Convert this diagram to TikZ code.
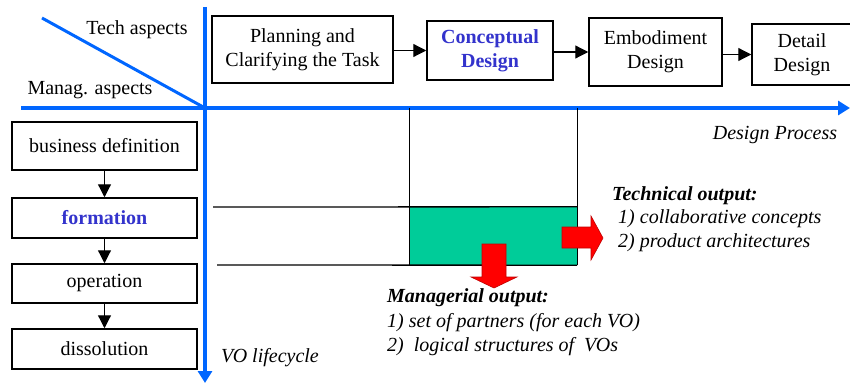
\documentclass[tikz,border=0pt]{standalone}
\usepackage{fontspec}
\setmainfont{Liberation Serif}
\usetikzlibrary{arrows.meta}

\definecolor{axisblue}{RGB}{0,102,255}
\definecolor{stageblue}{RGB}{51,51,204}
\definecolor{cellgreen}{RGB}{0,204,153}

\begin{document}
\begin{tikzpicture}[x=1pt, y=-1pt, font=\fontsize{20}{24}\selectfont]
	\tikzstyle{stage}  = [rectangle, draw=black, line width=1.5pt, fill=white, align=center, inner sep=0pt]
	\tikzstyle{axis}   = [draw=axisblue, line width=4pt, -{Triangle[length=12pt, width=14pt]}]
	\tikzstyle{flow}   = [line width=1.2pt, -{Triangle[length=13pt, width=13pt]}]
	\tikzstyle{grid}   = [line width=1.3pt]
	\tikzstyle{block}  = [fill=red, draw=red!75!black, line width=0.6pt]
	\tikzstyle{note}   = [anchor=west, inner sep=0pt, font=\fontsize{20}{24}\selectfont\itshape]

	\useasboundingbox (0,0) rectangle (850,385);

	% the two axes and the corner split
	\coordinate (origin) at (205,108);
	\coordinate (vtop) at (205,7);
	\coordinate (vend) at (205,383);
	\coordinate (hstart) at (21,108);
	\coordinate (hend) at (850,108);
	\coordinate (split) at (42,18);
	\draw[axis] (vtop) -- (vend);
	\draw[axis] (hstart) -- (hend);
	\draw[draw=axisblue, line width=3pt] (split) -- (origin);
	\node (tech) at (137,30) {Tech aspects};
	\node (manag) at (90,90) {Manag. aspects};

	% design process stages
	\foreach \name/\x/\y/\w/\h/\txt in {plan/302.5/49.5/181/67/{Planning and\\Clarifying the Task},
			conc/490/50.5/126/59/{\bfseries\color{stageblue}Conceptual\\\bfseries\color{stageblue}Design},
			embo/655.5/52/133/68/{Embodiment\\Design},
			detl/802/54.5/100/61/{Detail\\Design}}
		\node[stage, minimum width=\w pt, minimum height=\h pt] (\name) at (\x,\y) {\txt};

	\foreach \from/\to in {plan/conc, conc/embo, embo/detl}
		\draw[flow] (\from.east |- \to.west) -- (\to.west);

	% VO lifecycle stages
	\foreach \name/\y/\h/\txt in {bdef/146/48/business definition,
			form/218/40/{\bfseries\color{stageblue}formation},
			oper/283.5/39/operation,
			diss/349/40/dissolution}
		\node[stage, minimum width=185pt, minimum height=\h pt] (\name) at (104.5,\y) {\txt};

	\foreach \from/\to in {bdef/form, form/oper, oper/diss}
		\draw[flow] (\from) -- (\to);

	\node[note, anchor=center] (dproc) at (775,135) {Design Process};
	\node[note, anchor=center] (vol) at (270,358) {VO lifecycle};

	% conceptual design x formation
	\node[fill=cellgreen, minimum width=167pt, minimum height=58pt, inner sep=0pt] (cell) at (493.5,236) {};
	\draw[grid] (cell.north west |- origin) -- (cell.south west);
	\draw[grid] (cell.north east |- origin) -- (cell.south east);
	\draw[grid] (213,207) -- (cell.north east);
	\draw[grid] (217,265) -- (cell.south east);

	% outputs
	\draw[block] (562,227) -- (591,227) -- (591,216) -- (603,238) -- (591,260) -- (591,248) -- (562,248) -- cycle;
	\draw[block] (482,244) -- (506,244) -- (506,277) -- (517,277) -- (494,288) -- (471,277) -- (482,277) -- cycle;

	\node[note, font=\fontsize{20}{24}\selectfont\bfseries\itshape] (techout) at (612,196) {Technical output:};
	\node[note] (tech1) at (618,219) {1) collaborative concepts};
	\node[note] (tech2) at (618,243) {2) product architectures};

	\node[note, font=\fontsize{20}{24}\selectfont\bfseries\itshape] (manout) at (387,298) {Managerial output:};
	\node[note] (man1) at (387,323) {1) set of partners (for each VO)};
	\node[note] (man2) at (387,347) {2)\ \ logical structures of\ \ VOs};
\end{tikzpicture}
\end{document}
